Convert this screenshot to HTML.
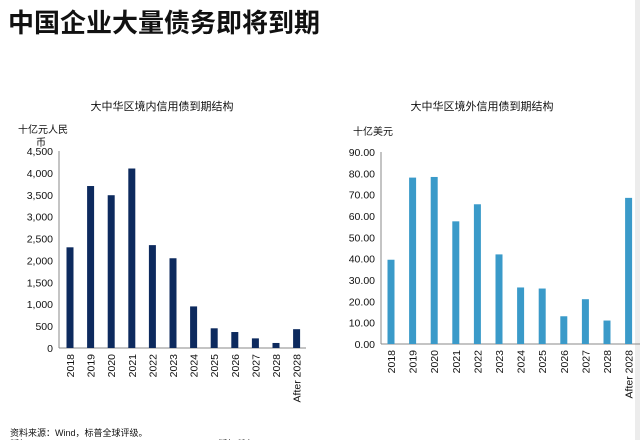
<!DOCTYPE html>
<html><head><meta charset="utf-8"><style>
body{margin:0;width:640px;height:440px;background:#fff;overflow:hidden;font-family:"Liberation Sans","Noto Sans CJK SC",sans-serif;}
svg text{font-family:"Liberation Sans","Noto Sans CJK SC",sans-serif;}
</style></head><body>
<svg id="s" width="640" height="440">
<rect x="635" y="0" width="5" height="440" fill="#ececec"/>
<text x="8" y="32" font-size="26" font-weight="bold" fill="#111">中国企业大量债务即将到期</text>
<text x="162" y="110" font-size="11" text-anchor="middle" fill="#111">大中华区境内信用债到期结构</text>
<text x="482" y="110" font-size="11" text-anchor="middle" fill="#111">大中华区境外信用债到期结构</text>
<text x="18" y="133" font-size="10" fill="#111">十亿元人民</text>
<text x="36" y="146" font-size="10" fill="#111">币</text>
<text x="353" y="135" font-size="10" fill="#111">十亿美元</text>
<text x="10" y="436" font-size="9" fill="#111">资料来源：Wind，标普全球评级。</text>
<text x="10" y="447" font-size="9" fill="#111">版权©2018 S&amp;P Global Ratings. All rights reserved. 版权所有</text>
<g id="left"></g>
<g id="right"></g>
</svg>
<script>
const categories=["2018","2019","2020","2021","2022","2023","2024","2025","2026","2027","2028","After 2028"];
const onshoreValues=[2300,3700,3490,4100,2350,2050,950,450,365,220,115,430];
const offshoreValues=[39.5,78,78.3,57.5,65.5,42,26.5,26,13,21,11,68.5];
const onshoreTicks=[0,500,1000,1500,2000,2500,3000,3500,4000,4500];
const onshoreTickLabels=["0","500","1,000","1,500","2,000","2,500","3,000","3,500","4,000","4,500"];
const offshoreTicks=[0,10,20,30,40,50,60,70,80,90];
const offshoreTickLabels=["0.00","10.00","20.00","30.00","40.00","50.00","60.00","70.00","80.00","90.00"];
const NS="http://www.w3.org/2000/svg";
function mk(tag,attrs,parent){const e=document.createElementNS(NS,tag);for(const k in attrs)e.setAttribute(k,attrs[k]);parent.appendChild(e);return e;}
function draw(g,cfg){
  const y=v=>cfg.y0-(v-0)/cfg.max*(cfg.y0-cfg.yTop);
  const x=i=>cfg.x0+i*cfg.step;
  const ya=mk('line',{x1:cfg.ax,y1:cfg.yTop,x2:cfg.ax,y2:cfg.y0,stroke:'#888','stroke-width':1},g);
  
  
  const xa=mk('line',{x1:cfg.ax,y1:cfg.y0,x2:cfg.axEnd,y2:cfg.y0,stroke:'#888','stroke-width':1},g);
  
  
  cfg.ticks.forEach((t,i)=>{
    const tx=mk('text',{x:cfg.ax-6,y:y(t)+4,'font-size':10.5,'text-anchor':'end',fill:'#111'},g);
    tx.textContent=cfg.labels[i];
    
    
  });
  cfg.values.forEach((v,i)=>{
    const r=mk('rect',{x:x(i)-3.5,y:y(v),width:7,height:cfg.y0-y(v),fill:cfg.color},g);
    
    
    const lx=x(i)+4,ly=cfg.y0+6;
    const t=mk('text',{x:lx,y:ly,'font-size':10.5,'text-anchor':'end',fill:'#111',transform:`rotate(-90 ${lx} ${ly})`},g);
    t.textContent=categories[i];
    
    
  });
}
draw(document.getElementById('left'),{values:onshoreValues,ticks:onshoreTicks,labels:onshoreTickLabels,max:4500,y0:348,yTop:151,x0:70,step:20.6,ax:59,axEnd:306,color:'#0d2a5e'});
draw(document.getElementById('right'),{values:offshoreValues,ticks:offshoreTicks,labels:offshoreTickLabels,max:90,y0:344,yTop:152,x0:391,step:21.6,ax:381,axEnd:640,color:'#3a9ac9'});
</script>
</body></html>
